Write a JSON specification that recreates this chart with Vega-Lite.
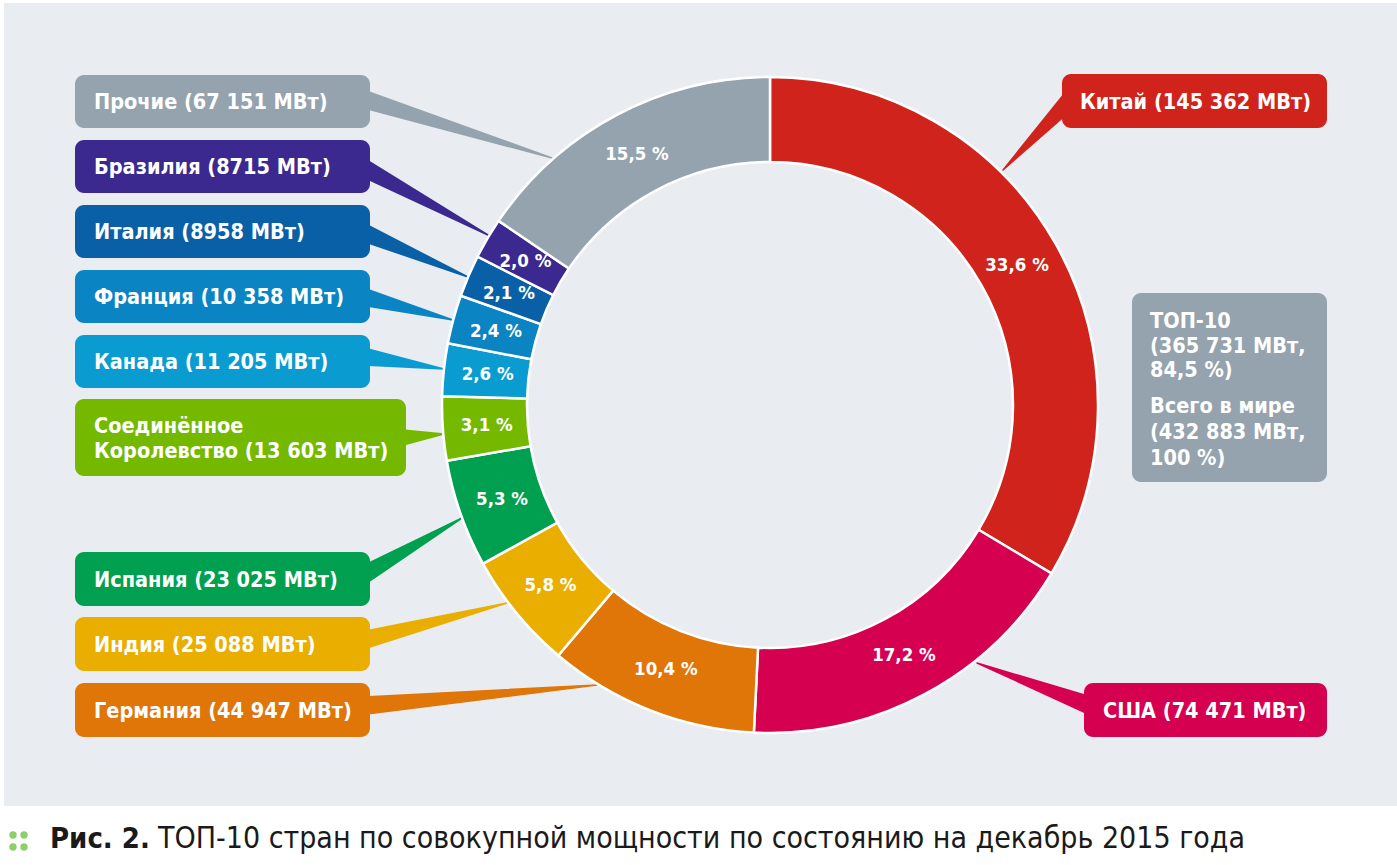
{
  "$schema": "https://vega.github.io/schema/vega-lite/v6.json",
  "width": 1397,
  "height": 865,
  "autosize": "none",
  "padding": 0,
  "background": "#ffffff",
  "config": {"view": {"stroke": null}},
  "datasets": {
    "shares": [
      {"idx": 1, "country": "Китай", "mw": 145362, "pct": "33,6 %"},
      {"idx": 2, "country": "США", "mw": 74471, "pct": "17,2 %"},
      {"idx": 3, "country": "Германия", "mw": 44947, "pct": "10,4 %"},
      {"idx": 4, "country": "Индия", "mw": 25088, "pct": "5,8 %"},
      {"idx": 5, "country": "Испания", "mw": 23025, "pct": "5,3 %"},
      {"idx": 6, "country": "Соединённое Королевство", "mw": 13603, "pct": "3,1 %"},
      {"idx": 7, "country": "Канада", "mw": 11205, "pct": "2,6 %"},
      {"idx": 8, "country": "Франция", "mw": 10358, "pct": "2,4 %"},
      {"idx": 9, "country": "Италия", "mw": 8958, "pct": "2,1 %"},
      {"idx": 10, "country": "Бразилия", "mw": 8715, "pct": "2,0 %"},
      {"idx": 11, "country": "Прочие", "mw": 67151, "pct": "15,5 %"}
    ],
    "boxes": [
      {"country": "Прочие", "x1": 75, "x2": 370, "y1": 75, "y2": 128, "tx": 94, "ty": 109, "label": "Прочие (67 151 МВт)"},
      {"country": "Бразилия", "x1": 75, "x2": 370, "y1": 140, "y2": 193, "tx": 94, "ty": 174, "label": "Бразилия (8715 МВт)"},
      {"country": "Италия", "x1": 75, "x2": 370, "y1": 205, "y2": 258, "tx": 94, "ty": 239, "label": "Италия (8958 МВт)"},
      {"country": "Франция", "x1": 75, "x2": 370, "y1": 270, "y2": 323, "tx": 94, "ty": 304, "label": "Франция (10 358 МВт)"},
      {"country": "Канада", "x1": 75, "x2": 370, "y1": 335, "y2": 388, "tx": 94, "ty": 369, "label": "Канада (11 205 МВт)"},
      {"country": "Соединённое Королевство", "x1": 75, "x2": 406, "y1": 399, "y2": 476, "tx": 94, "ty": 433, "label": ["Соединённое", "Королевство (13 603 МВт)"]},
      {"country": "Испания", "x1": 75, "x2": 370, "y1": 552, "y2": 606, "tx": 94, "ty": 587, "label": "Испания (23 025 МВт)"},
      {"country": "Индия", "x1": 75, "x2": 370, "y1": 617, "y2": 671, "tx": 94, "ty": 652, "label": "Индия (25 088 МВт)"},
      {"country": "Германия", "x1": 75, "x2": 370, "y1": 683, "y2": 737, "tx": 94, "ty": 718, "label": "Германия (44 947 МВт)"},
      {"country": "Китай", "x1": 1062, "x2": 1327, "y1": 74, "y2": 128, "tx": 1080, "ty": 109, "label": "Китай (145 362 МВт)"},
      {"country": "США", "x1": 1084, "x2": 1327, "y1": 683, "y2": 737, "tx": 1103, "ty": 718, "label": "США (74 471 МВт)"},
      {"country": "ТОП-10", "x1": 1132, "x2": 1327, "y1": 293, "y2": 482, "tx": 1150, "ty": 328, "label": ["ТОП-10", "(365 731 МВт,", "84,5 %)"]}
    ],
    "notes": [
      {"tx": 1150, "ty": 413, "label": ["Всего в мире", "(432 883 МВт,", "100 %)"]}
    ],
    "connectors": [
      {"country": "Прочие", "t": 0, "x": 360, "y": 98},
      {"country": "Прочие", "t": 1, "x": 552, "y": 158},
      {"country": "Бразилия", "t": 0, "x": 360, "y": 166},
      {"country": "Бразилия", "t": 1, "x": 488, "y": 235},
      {"country": "Италия", "t": 0, "x": 360, "y": 231},
      {"country": "Италия", "t": 1, "x": 468, "y": 277},
      {"country": "Франция", "t": 0, "x": 360, "y": 296},
      {"country": "Франция", "t": 1, "x": 453, "y": 320},
      {"country": "Канада", "t": 0, "x": 360, "y": 356},
      {"country": "Канада", "t": 1, "x": 444, "y": 369},
      {"country": "Соединённое Королевство", "t": 0, "x": 396, "y": 438},
      {"country": "Соединённое Королевство", "t": 1, "x": 444, "y": 434},
      {"country": "Испания", "t": 0, "x": 360, "y": 577},
      {"country": "Испания", "t": 1, "x": 462, "y": 518},
      {"country": "Индия", "t": 0, "x": 360, "y": 641},
      {"country": "Индия", "t": 1, "x": 507, "y": 603},
      {"country": "Германия", "t": 0, "x": 360, "y": 706},
      {"country": "Германия", "t": 1, "x": 597, "y": 685},
      {"country": "Китай", "t": 0, "x": 1072, "y": 98},
      {"country": "Китай", "t": 1, "x": 1003, "y": 170},
      {"country": "США", "t": 0, "x": 1094, "y": 707},
      {"country": "США", "t": 1, "x": 977, "y": 663}
    ],
    "dots": [
      {"x": 13, "y": 835}, {"x": 24, "y": 835}, {"x": 13, "y": 847}, {"x": 24, "y": 847}
    ],
    "captionBold": [
      {"x": 50, "y": 848, "label": "Рис. 2."}
    ],
    "caption": [
      {"x": 158, "y": 848, "label": "ТОП-10 стран по совокупной мощности по состоянию на декабрь 2015 года"}
    ]
  },
  "layer": [
    {
      "data": {"values": [{"x1": 4, "x2": 1397, "y1": 3, "y2": 806}]},
      "mark": {"type": "rect", "fill": "#e9edf1"},
      "encoding": {
        "x": {"field": "x1", "type": "quantitative", "axis": null, "scale": {"domain": [0, 1397], "nice": false, "zero": false}},
        "x2": {"field": "x2"},
        "y": {"field": "y1", "type": "quantitative", "axis": null, "scale": {"domain": [0, 865], "reverse": true, "nice": false, "zero": false}},
        "y2": {"field": "y2"}
      }
    },
    {
      "data": {"name": "connectors"},
      "mark": {"type": "trail"},
      "encoding": {
        "x": {"field": "x", "type": "quantitative", "axis": null},
        "y": {"field": "y", "type": "quantitative", "axis": null},
        "size": {"field": "t", "type": "quantitative", "legend": null, "scale": {"domain": [0, 1], "range": [19, 1.5], "zero": false}},
        "color": {"field": "country", "type": "nominal", "legend": null}
      }
    },
    {
      "data": {"name": "shares"},
      "mark": {"type": "arc", "outerRadius": 328, "innerRadius": 243, "stroke": "#ffffff", "strokeWidth": 2.5},
      "encoding": {
        "x": {"datum": 770, "type": "quantitative", "axis": null},
        "y": {"datum": 405, "type": "quantitative", "axis": null},
        "theta": {"field": "mw", "type": "quantitative", "stack": true},
        "order": {"field": "idx", "type": "quantitative"},
        "color": {
          "field": "country", "type": "nominal", "legend": null,
          "scale": {
            "domain": ["Китай", "США", "Германия", "Индия", "Испания", "Соединённое Королевство", "Канада", "Франция", "Италия", "Бразилия", "Прочие", "ТОП-10"],
            "range": ["#d0231b", "#d60051", "#e07508", "#e9ae00", "#00a050", "#74b900", "#0a9bd0", "#0a84c2", "#0a60a6", "#3b2990", "#95a3ae", "#95a3ae"]
          }
        }
      }
    },
    {
      "data": {"name": "shares"},
      "mark": {"type": "text", "radius": 284, "fill": "#ffffff", "fontSize": 18.5, "fontWeight": "bold", "font": "DejaVu Sans Condensed", "align": "center", "baseline": "middle"},
      "encoding": {
        "x": {"datum": 770, "type": "quantitative", "axis": null},
        "y": {"datum": 405, "type": "quantitative", "axis": null},
        "theta": {"field": "mw", "type": "quantitative", "stack": true},
        "order": {"field": "idx", "type": "quantitative"},
        "text": {"field": "pct"}
      }
    },
    {
      "data": {"name": "boxes"},
      "mark": {"type": "rect", "cornerRadius": 9},
      "encoding": {
        "x": {"field": "x1", "type": "quantitative", "axis": null},
        "x2": {"field": "x2"},
        "y": {"field": "y1", "type": "quantitative", "axis": null},
        "y2": {"field": "y2"},
        "color": {"field": "country", "type": "nominal", "legend": null}
      }
    },
    {
      "data": {"name": "boxes"},
      "mark": {"type": "text", "fill": "#ffffff", "fontSize": 21.5, "fontWeight": "bold", "font": "DejaVu Sans Condensed", "align": "left", "baseline": "alphabetic", "lineHeight": 24.5},
      "encoding": {
        "x": {"field": "tx", "type": "quantitative", "axis": null},
        "y": {"field": "ty", "type": "quantitative", "axis": null},
        "text": {"field": "label"}
      }
    },
    {
      "data": {"name": "notes"},
      "mark": {"type": "text", "fill": "#ffffff", "fontSize": 21.5, "fontWeight": "bold", "font": "DejaVu Sans Condensed", "align": "left", "baseline": "alphabetic", "lineHeight": 26},
      "encoding": {
        "x": {"field": "tx", "type": "quantitative", "axis": null},
        "y": {"field": "ty", "type": "quantitative", "axis": null},
        "text": {"field": "label"}
      }
    },
    {
      "data": {"name": "dots"},
      "mark": {"type": "point", "filled": true, "opacity": 1, "size": 55, "color": "#8dd06a"},
      "encoding": {
        "x": {"field": "x", "type": "quantitative", "axis": null},
        "y": {"field": "y", "type": "quantitative", "axis": null}
      }
    },
    {
      "data": {"name": "captionBold"},
      "mark": {"type": "text", "fill": "#1a1a1a", "fontSize": 29, "fontWeight": "bold", "font": "DejaVu Sans Condensed", "align": "left", "baseline": "alphabetic"},
      "encoding": {
        "x": {"field": "x", "type": "quantitative", "axis": null},
        "y": {"field": "y", "type": "quantitative", "axis": null},
        "text": {"field": "label"}
      }
    },
    {
      "data": {"name": "caption"},
      "mark": {"type": "text", "fill": "#1a1a1a", "fontSize": 30, "fontWeight": "normal", "font": "DejaVu Sans Condensed", "align": "left", "baseline": "alphabetic"},
      "encoding": {
        "x": {"field": "x", "type": "quantitative", "axis": null},
        "y": {"field": "y", "type": "quantitative", "axis": null},
        "text": {"field": "label"}
      }
    }
  ]
}
